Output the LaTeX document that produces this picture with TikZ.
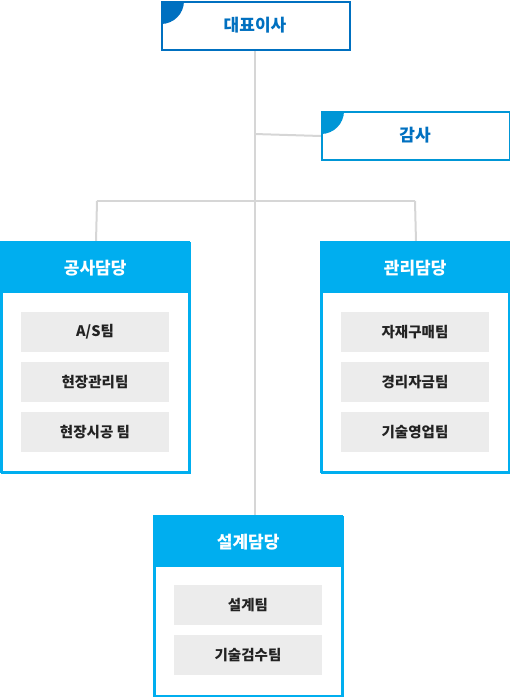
\documentclass[tikz,border=0pt]{standalone}
\usepackage{fontspec}
\newfontfamily\kr{Noto Sans CJK KR}
\definecolor{ceo}{HTML}{0070C0}
\definecolor{audit}{HTML}{0096D6}
\definecolor{cyanh}{HTML}{00AEEF}
\definecolor{lineg}{HTML}{D6D6D6}
\definecolor{teamg}{HTML}{ECECEC}
\definecolor{txt}{HTML}{222222}
\tikzset{
  topbox/.style={draw=#1, line width=2pt, fill=white, minimum width=188pt, minimum height=48pt, inner sep=0pt, anchor=north west},
  toptext/.style={font=\kr\bfseries\fontsize{17}{19}\selectfont, text=#1},
  deptbox/.style={draw=cyanh, line width=2pt, fill=white, minimum width=188pt, inner sep=0pt, anchor=north west},
  depthead/.style={fill=cyanh, minimum width=188pt, minimum height=51pt, inner sep=0pt, anchor=north west, font=\kr\bfseries\fontsize{17}{19}\selectfont, text=white},
  team/.style={fill=teamg, minimum width=148pt, minimum height=40pt, inner sep=0pt, font=\kr\bfseries\fontsize{14.5}{16}\selectfont, text=txt},
  conn/.style={draw=lineg, line width=2pt}
}
\begin{document}
\begin{tikzpicture}[x=1pt,y=-1pt]
\useasboundingbox (0,0) rectangle (510,697);
% connectors
\coordinate (c0) at (254.5,49);
\coordinate (j1) at (254.5,134);
\coordinate (jl) at (97,201);
\coordinate (jr) at (415,201);
\coordinate (d3t) at (254.5,516);
\node[topbox=ceo] (ceo) at (161,1) {};
\node[topbox=audit] (aud) at (321,111) {};
\node[deptbox, minimum height=230pt] (d1) at (1,242) {};
\node[deptbox, minimum height=230pt] (d2) at (321,242) {};
\node[deptbox, minimum height=180pt] (d3) at (154,516) {};
\draw[conn] (c0) -- (d3t);
\draw[conn] (j1) -- (aud.west);
\draw[conn] (jl) -- (jr);
\draw[conn] (jl) -- (d1.north);
\draw[conn] (jr) -- (d2.north);
% boxes redraw on top
\node[topbox=ceo] at (161,1) {};
\begin{scope}
\clip (161,1) rectangle (349,49);
\fill[ceo] (161,1) circle (23);
\end{scope}
\node[toptext=ceo] (ceot) at (255,25) {대표이사};
\node[topbox=audit] at (321,111) {};
\begin{scope}
\clip (321,111) rectangle (509,159);
\fill[audit] (321,111) circle (23);
\end{scope}
\node[toptext=ceo] (audt) at (415,135) {감사};
% departments
\node[deptbox, minimum height=230pt] at (1,242) {};
\node[depthead] (h1) at (1,242) {공사담당};
\node[deptbox, minimum height=230pt] at (321,242) {};
\node[depthead] (h2) at (321,242) {관리담당};
\node[deptbox, minimum height=180pt] at (154,516) {};
\node[depthead] (h3) at (154,516) {설계담당};
\draw[cyanh, line width=2pt] (1,242) rectangle (189,472);
\draw[cyanh, line width=2pt] (321,242) rectangle (509,472);
\draw[cyanh, line width=2pt] (154,516) rectangle (342,696);
% teams
\node[team] (t11) at (95,332) {A/S팀};
\node[team] (t12) at (95,382) {현장관리팀};
\node[team] (t13) at (95,432) {현장시공 팀};
\node[team] (t21) at (415,332) {자재구매팀};
\node[team] (t22) at (415,382) {경리자금팀};
\node[team] (t23) at (415,432) {기술영업팀};
\node[team] (t31) at (248,605) {설계팀};
\node[team] (t32) at (248,655) {기술검수팀};
\end{tikzpicture}
\end{document}
